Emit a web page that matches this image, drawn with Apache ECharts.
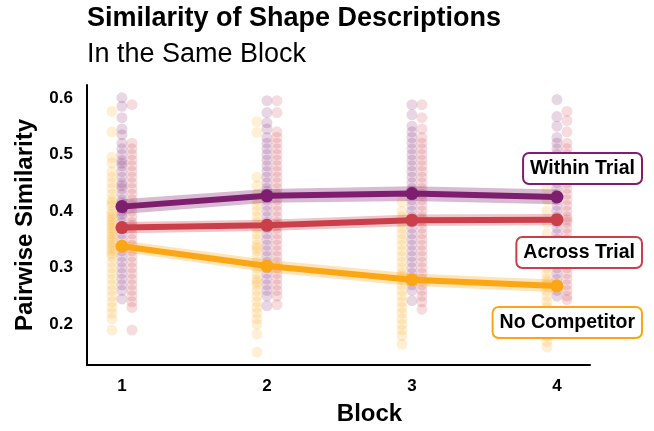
<!DOCTYPE html>
<html>
<head>
<meta charset="utf-8">
<script src="https://cdn.jsdelivr.net/npm/echarts@6/dist/echarts.min.js"></script>
<style>
  html, body { margin: 0; padding: 0; background: #fff; }
  #chart { width: 654px; height: 431px; }
</style>
</head>
<body>
<div id="chart"></div>
<script>
// blocks and tick labels
var blocks = [1, 2, 3, 4];
var yTicks = [0.2, 0.3, 0.4, 0.5, 0.6];

// condition means and ribbon bounds
var withinMean = [0.408, 0.427, 0.431, 0.425];
var withinLo = [0.395, 0.415, 0.418, 0.412];
var withinHi = [0.421, 0.439, 0.444, 0.438];

var acrossMean = [0.371, 0.375, 0.384, 0.385];
var acrossLo = [0.361, 0.365, 0.374, 0.375];
var acrossHi = [0.381, 0.385, 0.394, 0.395];

var noCompMean = [0.338, 0.303, 0.279, 0.268];
var noCompLo = [0.328, 0.292, 0.268, 0.257];
var noCompHi = [0.348, 0.314, 0.290, 0.279];

// raw pairwise similarity points, one list per block
var withinPoints = [
  [0.60, 0.585, 0.565, 0.545, 0.535, 0.52, 0.51, 0.50, 0.49, 0.485, 0.48, 0.47, 0.46, 0.45, 0.445, 0.44, 0.43, 0.42, 0.415, 0.41, 0.40, 0.395, 0.39, 0.38, 0.37, 0.36, 0.35, 0.34, 0.33, 0.32, 0.31, 0.30, 0.29, 0.28, 0.27, 0.26, 0.245],
  [0.595, 0.574, 0.556, 0.545, 0.53, 0.52, 0.51, 0.50, 0.49, 0.48, 0.47, 0.46, 0.45, 0.44, 0.435, 0.43, 0.42, 0.41, 0.40, 0.39, 0.38, 0.37, 0.36, 0.35, 0.34, 0.33, 0.32, 0.31, 0.30, 0.29, 0.28, 0.27, 0.26, 0.25, 0.233],
  [0.588, 0.57, 0.55, 0.54, 0.53, 0.52, 0.51, 0.50, 0.49, 0.48, 0.47, 0.46, 0.45, 0.44, 0.435, 0.43, 0.42, 0.41, 0.40, 0.39, 0.38, 0.37, 0.36, 0.35, 0.34, 0.33, 0.32, 0.31, 0.30, 0.29, 0.28, 0.27, 0.26, 0.242],
  [0.597, 0.567, 0.55, 0.53, 0.52, 0.51, 0.50, 0.49, 0.48, 0.47, 0.46, 0.45, 0.44, 0.43, 0.425, 0.42, 0.41, 0.40, 0.39, 0.38, 0.37, 0.36, 0.35, 0.34, 0.33, 0.32, 0.31, 0.30, 0.29, 0.28, 0.27, 0.26, 0.25]
];
var acrossPoints = [
  [0.588, 0.52, 0.51, 0.50, 0.49, 0.48, 0.47, 0.46, 0.45, 0.44, 0.43, 0.42, 0.41, 0.40, 0.39, 0.38, 0.375, 0.37, 0.36, 0.35, 0.34, 0.33, 0.32, 0.31, 0.30, 0.29, 0.28, 0.27, 0.26, 0.25, 0.24, 0.23, 0.19],
  [0.595, 0.574, 0.54, 0.53, 0.52, 0.51, 0.50, 0.49, 0.48, 0.47, 0.46, 0.45, 0.44, 0.43, 0.42, 0.41, 0.40, 0.39, 0.38, 0.375, 0.37, 0.36, 0.35, 0.34, 0.33, 0.32, 0.31, 0.30, 0.29, 0.28, 0.27, 0.26, 0.25, 0.235],
  [0.588, 0.565, 0.545, 0.53, 0.52, 0.51, 0.50, 0.49, 0.48, 0.47, 0.46, 0.45, 0.44, 0.43, 0.42, 0.41, 0.40, 0.39, 0.385, 0.38, 0.37, 0.36, 0.35, 0.34, 0.33, 0.32, 0.31, 0.30, 0.29, 0.28, 0.27, 0.26, 0.25, 0.24, 0.227],
  [0.576, 0.56, 0.54, 0.52, 0.51, 0.50, 0.49, 0.48, 0.47, 0.46, 0.45, 0.44, 0.43, 0.42, 0.41, 0.40, 0.39, 0.385, 0.38, 0.37, 0.36, 0.35, 0.34, 0.33, 0.32, 0.31, 0.30, 0.29, 0.28, 0.27, 0.26, 0.25, 0.244]
];
var noCompPoints = [
  [0.576, 0.54, 0.495, 0.485, 0.47, 0.46, 0.45, 0.44, 0.43, 0.42, 0.415, 0.41, 0.40, 0.395, 0.39, 0.385, 0.38, 0.375, 0.37, 0.365, 0.36, 0.355, 0.35, 0.345, 0.34, 0.335, 0.33, 0.325, 0.32, 0.31, 0.30, 0.29, 0.28, 0.27, 0.26, 0.25, 0.24, 0.23, 0.22, 0.21, 0.19],
  [0.558, 0.539, 0.46, 0.445, 0.43, 0.42, 0.41, 0.40, 0.39, 0.38, 0.37, 0.36, 0.35, 0.34, 0.335, 0.33, 0.32, 0.31, 0.30, 0.29, 0.28, 0.275, 0.27, 0.26, 0.25, 0.24, 0.23, 0.22, 0.21, 0.20, 0.183, 0.151],
  [0.417, 0.40, 0.39, 0.38, 0.37, 0.36, 0.35, 0.34, 0.33, 0.32, 0.31, 0.30, 0.29, 0.285, 0.28, 0.27, 0.26, 0.25, 0.24, 0.23, 0.22, 0.21, 0.20, 0.19, 0.18, 0.165],
  [0.44, 0.42, 0.40, 0.38, 0.36, 0.34, 0.33, 0.32, 0.31, 0.30, 0.29, 0.28, 0.275, 0.27, 0.26, 0.25, 0.24, 0.23, 0.22, 0.21, 0.20, 0.19, 0.18, 0.17, 0.16]
];

var FONT = 'Liberation Sans';
var purple = '#7D1E6E';
var red = '#CB3F4A';
var yellow = '#FBA614';

var chart = echarts.init(document.getElementById('chart'), null, { renderer: 'canvas' });

// points dodged left / centre / right of each block
function pointSeries(points, dodge, color) {
  var data = [];
  for (var b = 0; b < blocks.length; b++) {
    for (var k = 0; k < points[b].length; k++) {
      data.push([blocks[b] + dodge, points[b][k]]);
    }
  }
  return {
    type: 'scatter',
    data: data,
    symbolSize: 11,
    silent: true,
    z: 1,
    itemStyle: { color: color, opacity: 0.18 }
  };
}

// confidence ribbon as one polygon
function ribbonSeries(lo, hi, color) {
  return {
    type: 'custom',
    data: [[blocks[0], lo[0]]],
    silent: true,
    z: 3,
    renderItem: function (params, api) {
      var pts = [];
      for (var i = 0; i < blocks.length; i++) pts.push(api.coord([blocks[i], hi[i]]));
      for (var j = blocks.length - 1; j >= 0; j--) pts.push(api.coord([blocks[j], lo[j]]));
      return {
        type: 'polygon',
        shape: { points: pts },
        style: { fill: color, opacity: 0.3 }
      };
    }
  };
}

function meanSeries(mean, color) {
  return {
    type: 'line',
    data: blocks.map(function (b, i) { return [b, mean[i]]; }),
    symbol: 'circle',
    symbolSize: 13,
    z: 5,
    lineStyle: { color: color, width: 6 },
    itemStyle: { color: color }
  };
}

function endLabel(text, color, y) {
  return {
    type: 'text',
    right: 11,
    top: y,
    z: 100,
    style: {
      text: text,
      fontFamily: FONT,
      fontSize: 19.5,
      fontWeight: 'bold',
      fill: '#000',
      backgroundColor: '#fff',
      borderColor: color,
      borderWidth: 2,
      borderRadius: 5,
      padding: [5, 6, 4, 6]
    }
  };
}

var option = {
  animation: false,
  backgroundColor: '#fff',
  title: {
    text: 'Similarity of Shape Descriptions',
    subtext: 'In the Same Block',
    left: 82,
    top: 0,
    itemGap: 9,
    textStyle: { fontFamily: FONT, fontSize: 27, fontWeight: 'bold', color: '#000' },
    subtextStyle: { fontFamily: FONT, fontSize: 27, fontWeight: 'normal', color: '#000' }
  },
  grid: { left: 87, right: 64, top: 85, bottom: 63 },
  xAxis: {
    type: 'value',
    min: 0.759,
    max: 4.228,
    name: 'Block',
    nameLocation: 'middle',
    nameGap: 37,
    nameTextStyle: { fontFamily: FONT, fontSize: 24, fontWeight: 'bold', color: '#000', padding: [0, 0, 0, 62] },
    axisLine: { lineStyle: { color: '#000', width: 2 } },
    axisTick: { show: false },
    splitLine: { show: false },
    axisLabel: {
      customValues: blocks,
      margin: 13,
      fontFamily: FONT,
      fontSize: 17,
      fontWeight: 'bold',
      color: '#000'
    }
  },
  yAxis: {
    type: 'value',
    min: 0.1284,
    max: 0.6227,
    name: 'Pairwise Similarity',
    nameLocation: 'middle',
    nameGap: 50,
    nameTextStyle: { fontFamily: FONT, fontSize: 24, fontWeight: 'bold', color: '#000' },
    axisLine: { show: true, lineStyle: { color: '#000', width: 2 } },
    axisTick: { show: false },
    splitLine: { show: false },
    axisLabel: {
      customValues: yTicks,
      margin: 14,
      fontFamily: FONT,
      fontSize: 17,
      fontWeight: 'bold',
      color: '#000',
      formatter: function (v) { return v.toFixed(1); }
    }
  },
  graphic: [
    endLabel('Within Trial', purple, 152),
    endLabel('Across Trial', red, 236),
    endLabel('No Competitor', yellow, 306)
  ],
  series: [
    pointSeries(noCompPoints, -0.069, yellow),
    pointSeries(withinPoints, 0, purple),
    pointSeries(acrossPoints, 0.069, red),
    ribbonSeries(noCompLo, noCompHi, yellow),
    ribbonSeries(acrossLo, acrossHi, red),
    ribbonSeries(withinLo, withinHi, purple),
    meanSeries(noCompMean, yellow),
    meanSeries(acrossMean, red),
    meanSeries(withinMean, purple)
  ]
};

chart.setOption(option);
</script>
</body>
</html>
